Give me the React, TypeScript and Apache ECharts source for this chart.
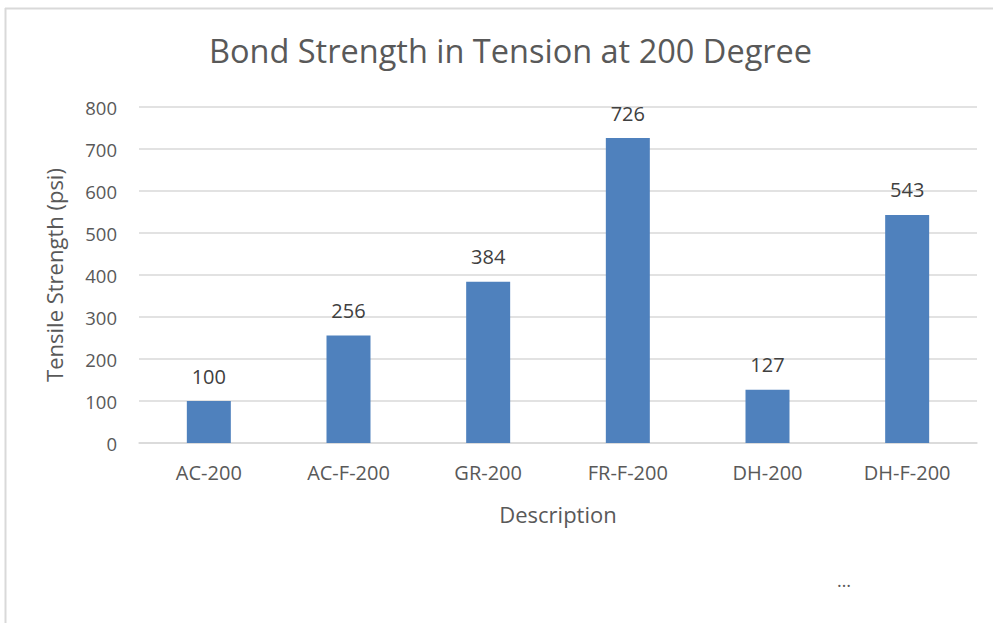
import React, { useEffect, useRef } from "react";
import * as echarts from "echarts";

const categories = ["AC-200", "AC-F-200", "GR-200", "FR-F-200", "DH-200", "DH-F-200"];
const tensileStrength = [100, 256, 384, 726, 127, 543];
const yTicks = { min: 0, max: 800, interval: 100 };

const FONT = "'Open Sans', 'Noto Sans', sans-serif";
const TEXT = "#595959";

export default function App() {
  const ref = useRef<HTMLDivElement>(null);

  useEffect(() => {
    if (!ref.current) return;
    const chart = echarts.init(ref.current, null, { renderer: "svg" });
    chart.setOption({
      animation: false,
      backgroundColor: "#ffffff",
      title: {
        text: "Bond Strength in Tension at 200 Degree",
        left: 204,
        top: 29,
        textStyle: { fontFamily: FONT, fontSize: 32.5, fontWeight: "normal", color: TEXT },
      },
      grid: { left: 139, right: 16, top: 107, bottom: 180 },
      xAxis: {
        type: "category",
        data: categories,
        name: "Description",
        nameLocation: "middle",
        nameGap: 60,
        nameTextStyle: { fontFamily: FONT, fontSize: 22, color: TEXT },
        axisLine: { lineStyle: { color: "#d9d9d9", width: 1.5 } },
        axisTick: { show: false },
        axisLabel: { fontFamily: FONT, fontSize: 20, color: TEXT, margin: 19 },
      },
      yAxis: {
        type: "value",
        min: yTicks.min,
        max: yTicks.max,
        interval: yTicks.interval,
        name: "Tensile Strength (psi)",
        nameLocation: "middle",
        nameGap: 74,
        nameTextStyle: { fontFamily: FONT, fontSize: 22, color: TEXT },
        axisLine: { show: false },
        axisTick: { show: false },
        axisLabel: { fontFamily: FONT, fontSize: 18.5, color: TEXT, margin: 22 },
        splitLine: { lineStyle: { color: "#d9d9d9", width: 1.5 } },
      },
      series: [
        {
          type: "bar",
          data: tensileStrength,
          barWidth: "31.5%",
          itemStyle: { color: "#4f81bd" },
          label: {
            show: true,
            position: "top",
            distance: 15,
            fontFamily: FONT,
            fontSize: 20,
            color: "#404040",
          },
        },
      ],
      graphic: [
        { type: "line", shape: { x1: 5, y1: 8.5, x2: 993, y2: 8.5 }, style: { stroke: "#d9d9d9", lineWidth: 2 } },
        { type: "line", shape: { x1: 5.5, y1: 8, x2: 5.5, y2: 623 }, style: { stroke: "#d9d9d9", lineWidth: 2 } },
        {
          type: "text",
          left: 837,
          top: 571,
          style: { text: "…", fontFamily: FONT, fontSize: 18, fill: TEXT },
        },
      ],
    });
    return () => chart.dispose();
  }, []);

  return (
    <div
      ref={ref}
      style={{ position: "absolute", left: 0, top: 0, width: 993, height: 623 }}
    />
  );
}
